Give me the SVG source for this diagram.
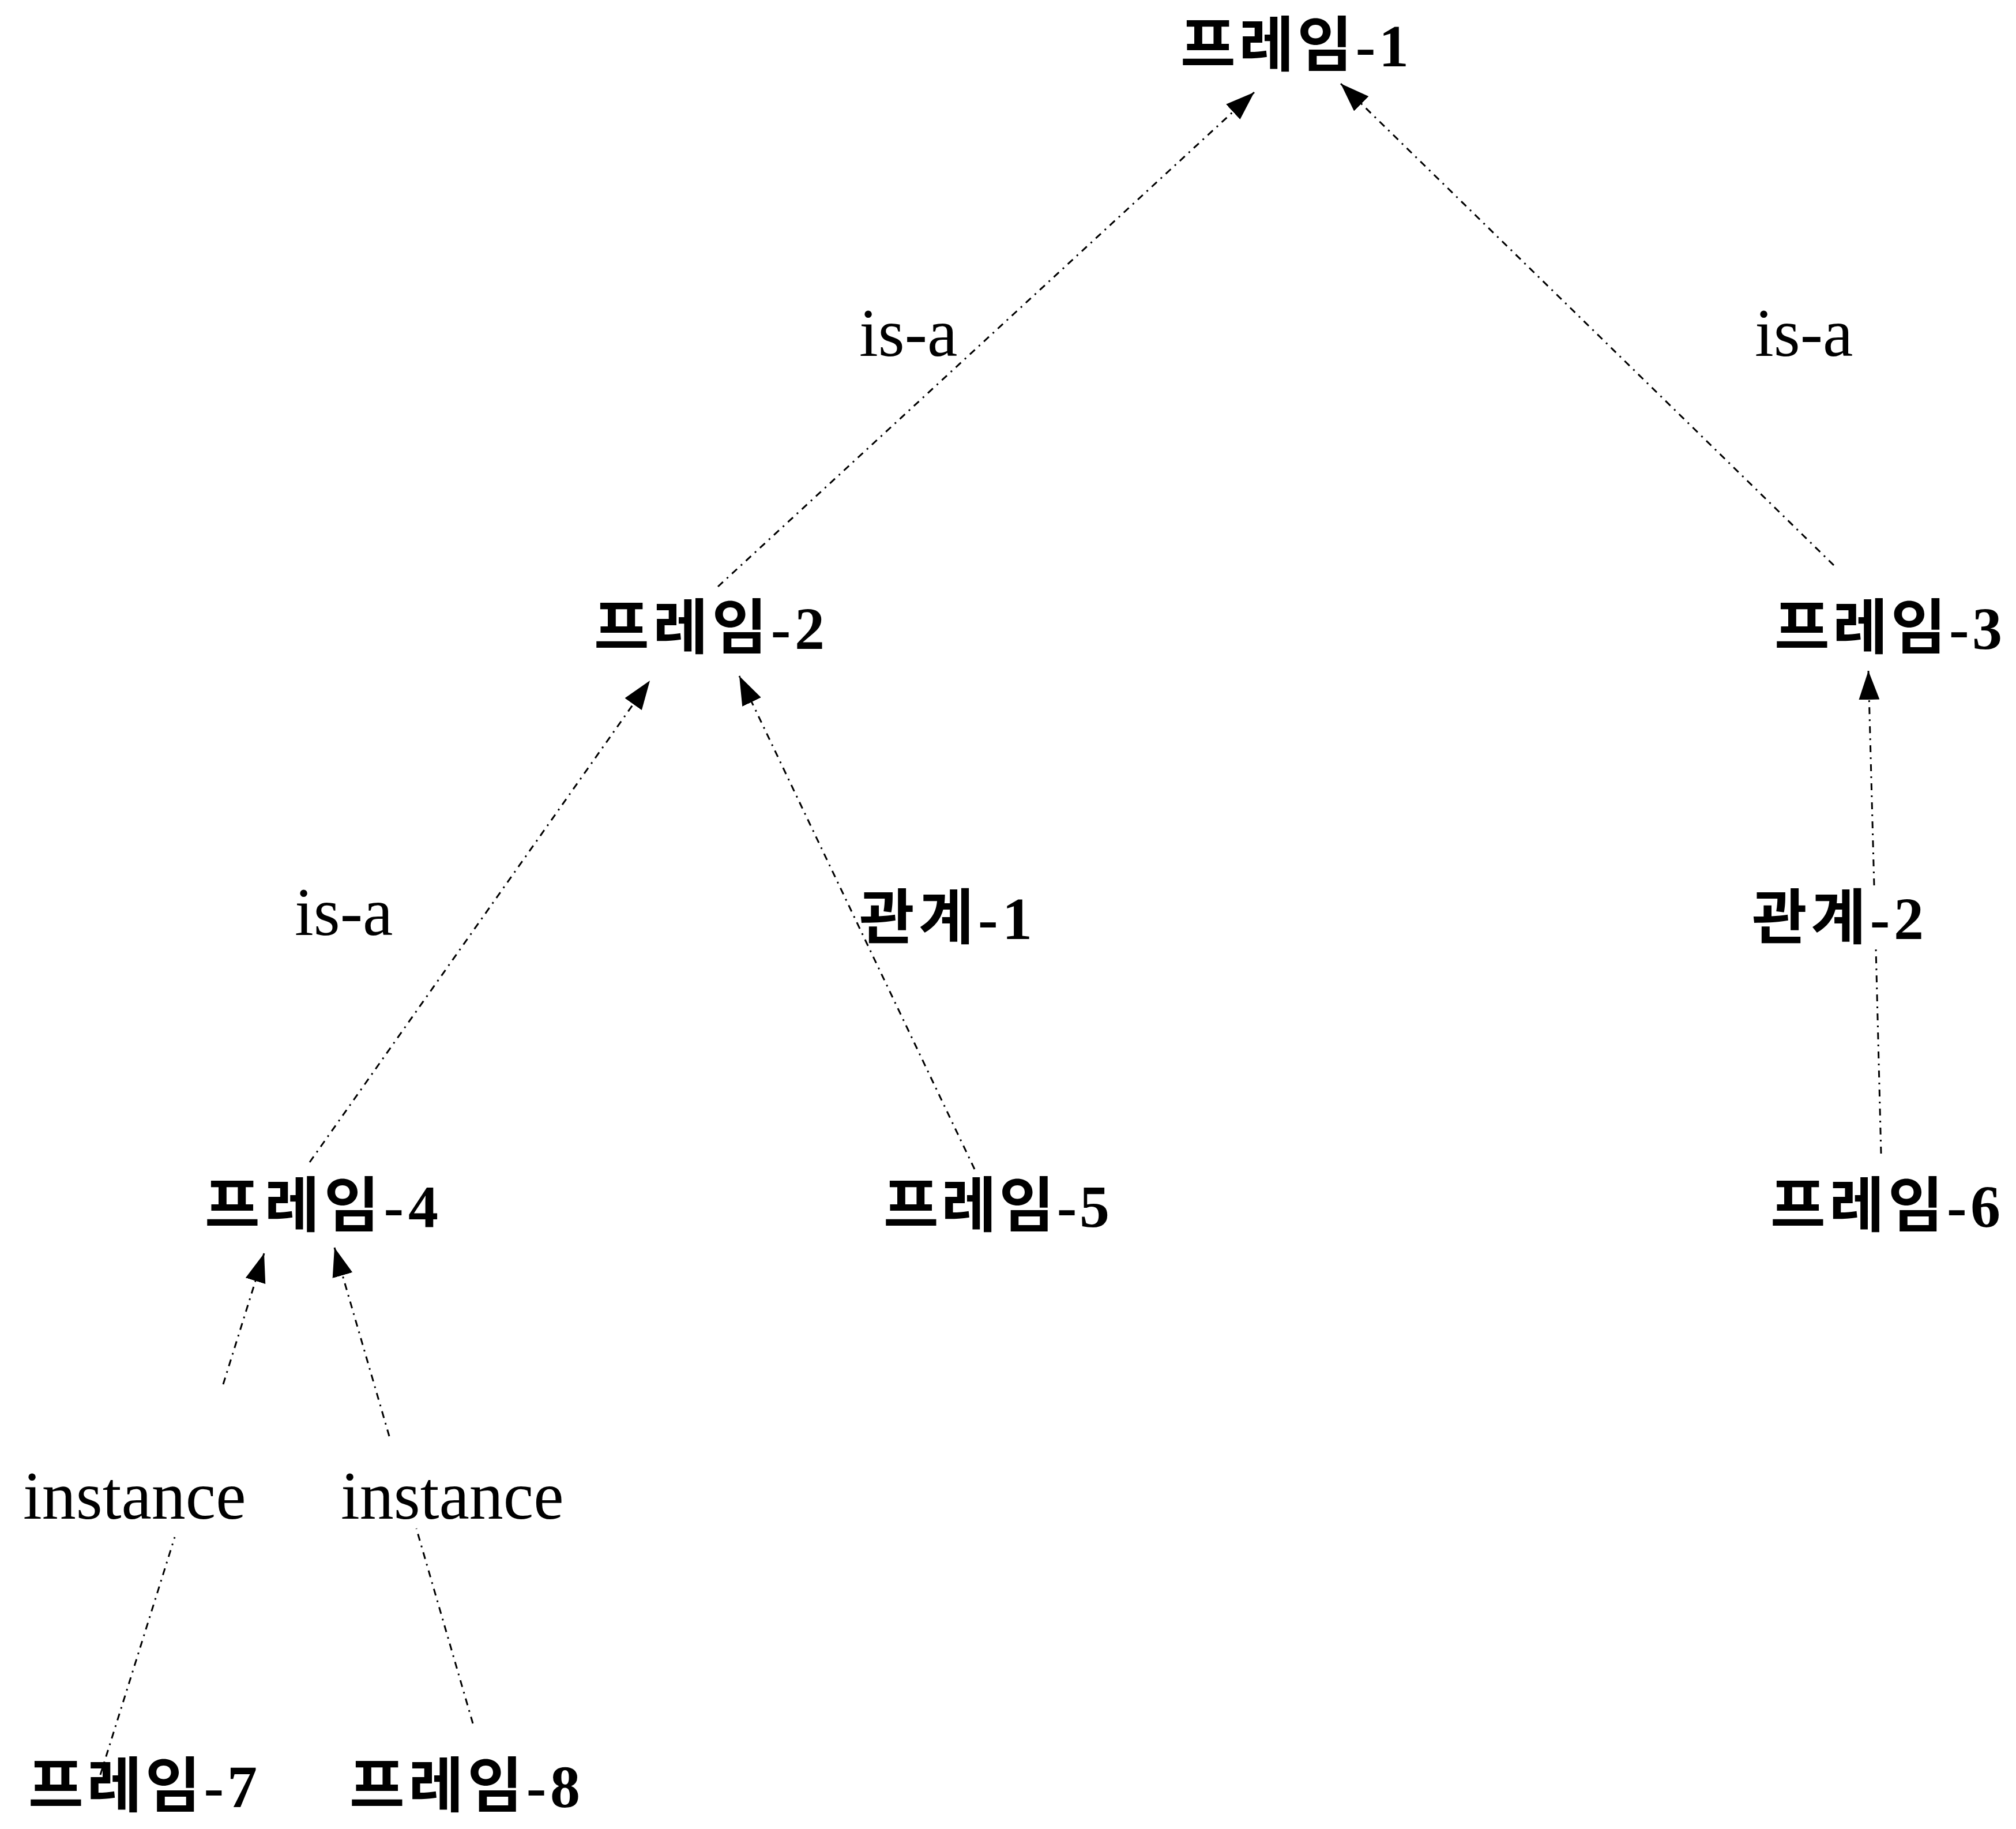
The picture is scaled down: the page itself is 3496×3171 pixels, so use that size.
<svg xmlns="http://www.w3.org/2000/svg" width="3496" height="3171" viewBox="0 0 3496 3171">
<style>
.node{font-family:"Liberation Serif","Noto Sans CJK KR",serif;font-weight:700;font-size:104px;fill:#000}
.lbl{font-family:"Liberation Serif",serif;font-weight:400;font-size:118px;fill:#000}
.klbl{font-family:"Liberation Serif","Noto Sans CJK KR",serif;font-weight:700;font-size:104px;fill:#000}
.edge{fill:none;stroke:#000;stroke-width:3;stroke-dasharray:12 9 3 9;marker-end:url(#ah)}
</style>
<defs>
<marker id="ah" markerUnits="userSpaceOnUse" markerWidth="52" markerHeight="38" refX="50" refY="18" orient="auto">
<path d="M0,0 L50,18 L0,36 Z" fill="#000"/>
</marker>
</defs>
<rect width="3496" height="3171" fill="#fff"/>
<g id="connectors">
<path id="e2-1" class="edge" d="M1245,1017 L2175,160"/>
<path id="e3-1" class="edge" d="M3180,980 L2325,145"/>
<path id="e4-2" class="edge" d="M537,2015 L1127,1180"/>
<path id="e5-2" class="edge" d="M1690,2027 L1282,1172"/>
<path id="e6-3" class="edge" d="M3262,2000 L3253,1645 M3250,1535 L3240,1163"/>
<path id="e7-4" class="edge" d="M174,3077 L303,2665 M387,2400 L458,2173"/>
<path id="e8-4" class="edge" d="M820,2988 L722,2650 M675,2490 L580,2163"/>
</g>
<g id="edge-labels">
<text class="lbl" x="1490" y="617">is-a</text>
<text class="lbl" x="3043" y="617">is-a</text>
<text class="lbl" x="511" y="1621">is-a</text>
<text class="klbl" x="1490" y="1628" textLength="300" lengthAdjust="spacing">관계-1</text>
<text class="klbl" x="3038" y="1628" textLength="298" lengthAdjust="spacing">관계-2</text>
<text class="lbl" x="40" y="2633">instance</text>
<text class="lbl" x="591" y="2633">instance</text>
</g>
<g id="frame1"><text class="node" x="2047" y="115" textLength="396" lengthAdjust="spacing">프레임-1</text></g>
<g id="frame2"><text class="node" x="1030" y="1125" textLength="400" lengthAdjust="spacing">프레임-2</text></g>
<g id="frame3"><text class="node" x="3077" y="1125" textLength="395" lengthAdjust="spacing">프레임-3</text></g>
<g id="frame4"><text class="node" x="355" y="2127" textLength="405" lengthAdjust="spacing">프레임-4</text></g>
<g id="frame5"><text class="node" x="1532" y="2127" textLength="392" lengthAdjust="spacing">프레임-5</text></g>
<g id="frame6"><text class="node" x="3070" y="2127" textLength="399" lengthAdjust="spacing">프레임-6</text></g>
<g id="frame7"><text class="node" x="49" y="3133" textLength="397" lengthAdjust="spacing">프레임-7</text></g>
<g id="frame8"><text class="node" x="606" y="3133" textLength="400" lengthAdjust="spacing">프레임-8</text></g>
</svg>
